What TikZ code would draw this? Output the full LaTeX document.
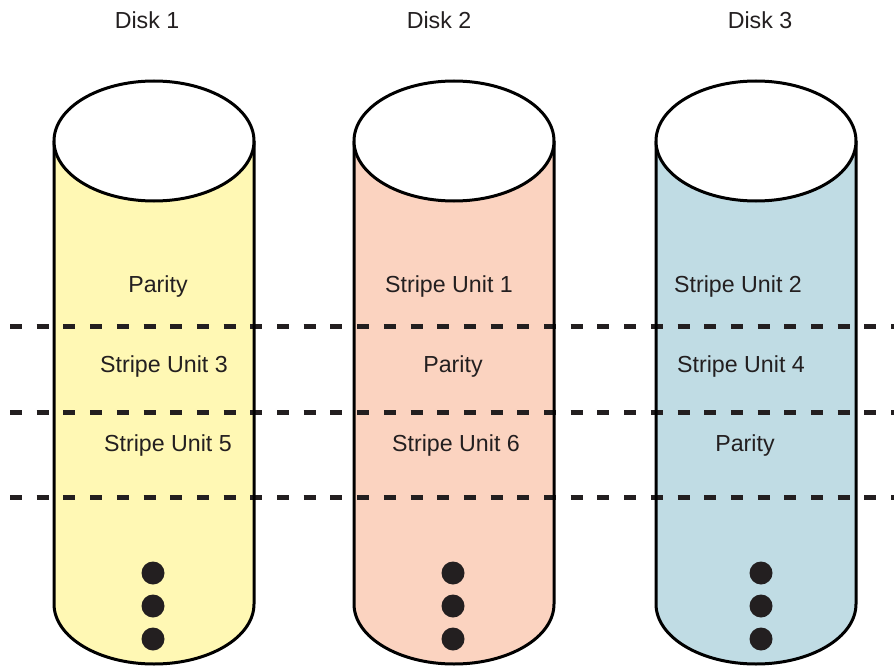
\documentclass[tikz,border=0pt]{standalone}
\usepackage{fontspec}
\setmainfont{Liberation Sans}
\definecolor{discoA}{RGB}{255,248,180}
\definecolor{discoB}{RGB}{251,211,192}
\definecolor{discoC}{RGB}{192,220,228}
\definecolor{punto}{RGB}{35,31,32}
\tikzset{
  etiq/.style={font=\fontsize{23.2}{28}\selectfont, text=punto, inner sep=0pt},
  borde/.style={line width=3pt, black},
  franja/.style={line width=5pt, punto, dash pattern=on 12pt off 14.7pt},
  bolita/.style={circle, fill=punto, minimum size=23pt, inner sep=0pt}
}
\begin{document}
\begin{tikzpicture}[x=1pt,y=-1pt]
        \useasboundingbox (0,0) rectangle (894,666);
        % Cilindros (relleno)
        \foreach \cx/\col in {154/discoA, 454/discoB, 756/discoC}{
          \fill[\col] (\cx-100,141) -- (\cx-100,604) arc (180:360:100 and -60) -- (\cx+100,141) -- cycle;
        }
        % Lineas punteadas
        \foreach \fy in {326,412,497}{
          \coordinate (ini\fy) at (10,\fy);
          \coordinate (fin\fy) at (894,\fy);
          \draw[franja] (ini\fy) -- (fin\fy);
        }
        % Cilindros (bordes y tapa)
        \foreach \cx in {154,454,756}{
          \draw[borde] (\cx-100,141) -- (\cx-100,604) arc (180:360:100 and -60) -- (\cx+100,141);
          \draw[borde, fill=white] (\cx,141) ellipse (100 and 60);
        }
        % Titulos
        \node[etiq] (d1) at (147,20) {Disk 1};
        \node[etiq] (d2) at (439,20) {Disk 2};
        \node[etiq] (d3) at (760,20) {Disk 3};
        % Primera fila
        \node[etiq] (p1) at (158,287) {Parity};
        \node[etiq] (s1) at (449,287) {Stripe Unit 1};
        \node[etiq] (s2) at (738,287) {Stripe Unit 2};
        % Segunda fila
        \node[etiq] (s3) at (164,366) {Stripe Unit 3};
        \node[etiq] (p2) at (453,366) {Parity};
        \node[etiq] (s4) at (741,366) {Stripe Unit 4};
        % Tercera fila
        \node[etiq] (s5) at (168,445) {Stripe Unit 5};
        \node[etiq] (s6) at (456,445) {Stripe Unit 6};
        \node[etiq] (p3) at (745,445) {Parity};
        % Puntos suspensivos
        \foreach \cx/\n in {153/a,453/b,761/c}{
          \node[bolita] (\n1) at (\cx,573) {};
          \node[bolita] (\n2) at (\cx,606) {};
          \node[bolita] (\n3) at (\cx,639) {};
        }
    \end{tikzpicture}
\end{document}
